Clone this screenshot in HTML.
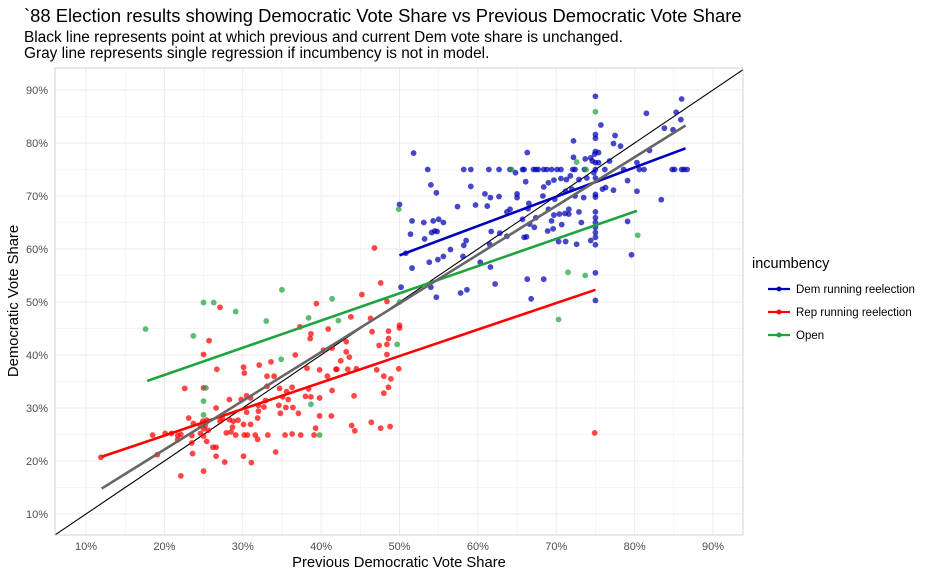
<!DOCTYPE html>
<html><head><meta charset="utf-8">
<style>
body{margin:0;background:#fff;}
svg text{font-family:"Liberation Sans",Arial,sans-serif;}
</style></head>
<body>
<svg id="chart" width="931" height="576" xmlns="http://www.w3.org/2000/svg">
<text x="24" y="22" font-size="18.4" fill="#000">`88 Election results showing Democratic Vote Share vs Previous Democratic Vote Share</text>
<text x="24" y="42" font-size="15.4" fill="#000">Black line represents point at which previous and current Dem vote share is unchanged.</text>
<text x="24" y="58" font-size="15.4" fill="#000">Gray line represents single regression if incumbency is not in model.</text>
<g id="grid"></g>
<g id="marks"></g>
<rect x="55" y="68" width="688" height="467" fill="none" stroke="#c8c8c8" stroke-width="0.8"/>
<g id="axes"></g>
<text x="399" y="567" font-size="14.8" text-anchor="middle">Previous Democratic Vote Share</text>
<text transform="translate(18,301) rotate(-90)" font-size="14.8" text-anchor="middle">Democratic Vote Share</text>
<g>
<text x="752" y="268" font-size="14.5">incumbency</text>
<g><line x1="768" y1="289" x2="790" y2="289" stroke="#0000bb" stroke-width="2.2"/><circle cx="779" cy="289" r="2.5" fill="#0000bb"/><text x="796" y="293" font-size="11.5">Dem running reelection</text></g>
<g><line x1="768" y1="312" x2="790" y2="312" stroke="#ff0000" stroke-width="2.2"/><circle cx="779" cy="312" r="2.5" fill="#ff0000"/><text x="796" y="316" font-size="11.5">Rep running reelection</text></g>
<g><line x1="768" y1="335" x2="790" y2="335" stroke="#1fa33f" stroke-width="2.2"/><circle cx="779" cy="335" r="2.5" fill="#1fa33f"/><text x="796" y="339" font-size="11.5">Open</text></g>
</g>
</svg>
<script>
const xTicks=[10,20,30,40,50,60,70,80,90];
const yTicks=[10,20,30,40,50,60,70,80,90];
const demX=[75,86,81.5,85.3,75.7,83.8,84.9,85.9,75,75,77.5,77.3,78.2,72.2,75,75.4,74.9,81.9,51.8,66.3,72.2,73.7,74.4,74.6,75,75.4,76.8,80.3,
53.6,58.2,59.1,61.4,62.7,64.1,65.7,65.9,67.1,67.4,67.7,68.4,68.8,69.4,70.1,70.6,72.1,72.4,73.6,75,76.2,78.6,80.6,81.2,84.8,85.1,86,86.3,86.7,
64.8,54,54.7,59.1,66.1,68.4,69,69.7,70.6,71.3,71.8,72.9,73.9,75,74.8,79.1,80.3,83.4,77.3,76.3,75.9,75,75,73.5,72.4,72,71.2,61.6,62.7,65,65,60.9,69.8,68.3,50,57.4,59.7,61.2,64.1,
63.7,66.5,66.4,65.7,67.4,69,69.7,70.4,71.1,71.6,71.6,72.9,75,75,75,75,75,75,75,73.2,74.4,72.6,71.2,70.3,79.1,68.9,69.6,70.7,69.4,67.2,66.6,66.2,65.9,63.7,62.8,61.7,
51.6,53.1,54.3,55,55.6,54.1,54.5,54.8,51.4,53.2,58.5,58.2,56.5,61.5,58.1,55.6,54.9,53.8,51.6,60.3,61.6,79.6,62.2,66.3,68.4,75,50.2,54,54.7,57.8,58.6,66.8,75,50.8];
const demY=[88.8,88.3,85.6,85.8,83.4,82.8,82.5,84.4,81.6,80.9,81.4,79.9,79.4,80.4,78.4,78.2,77.9,78.6,78.1,78.2,77.3,77,77.2,76.6,76.3,76.3,76.6,76.3,
75,75,75,75,75,75,75,75,75,75,75,75,75,75,75,75,75,75,75,75,75,75,75,75,75,75,75,75,75,
74.4,72.1,70.6,71.8,72.7,71.7,72.5,73,73.3,73.1,73.8,73.1,73.4,73.4,74.4,72.9,70.9,69.3,71.1,71.6,71.3,70.3,69.8,69.7,70,71.3,70.9,69.7,69.9,69.7,70.4,70.4,69.4,70,68.4,68,68.3,68.1,67.5,
67,68.6,67.6,65.6,65.9,67.5,66.4,66.6,66.7,67.5,66.6,67,67,65.9,65,64.1,63.1,62.2,60.8,65,61.6,60.9,61.4,61.4,65.2,63.4,63.8,64.6,65.3,64.1,64.7,62.3,62.2,62.4,63,63.3,
65.3,65,65.3,65.6,65,63.1,63.4,63.3,62.8,61.9,61.6,60.7,59.9,60.9,58.6,58.6,58,57.5,56.4,57.5,56.6,58.9,53.4,54.3,54.3,55.5,52.8,52.8,50.9,51.7,52.3,50.6,50.3,59.2];
const repX=[46.8,47.6,45.2,39.4,43.8,46.3,48.4,27.1,25.7,25,37.3,38.7,38.6,40.9,46.5,48.6,48.6,48.4,47.4,50,50,48.4,40.3,41.4,43.2,43.2,43.6,42.5,41.9,42,43.4,44.5,47.1,48,48.9,49.9,48.6,48,44.2,41.4,40.8,39.8,38.2,36.7,33.6,32.1,30.1,30.2,26.7,33.1,34,33.1,34.7,36.3,35.6,35.8,35.1,36.4,37.1,35.5,34.6,34.8,38,38.7,38.4,39.8,39.8,41.3,39.3,39.1,37.4,36.3,35.4,33.2,31.6,31.9,30.6,30.2,29.1,30.1,31.1,34.2,27.7,26.6,26.2,26.6,25.4,23.5,23.6,22.1,25,19.1,11.9,18.5,20.1,20.9,21.7,22.1,21.7,23.5,23.1,23.7,24.6,25,24.6,25.6,25,25.4,24.9,25.2,26.6,27.1,27.4,28.3,28.8,29.4,28.7,27.9,28.5,28.3,29.8,30.5,31,30.5,32,32,32.7,32.9,31.9,31,30.1,22.6,25,43.9,44.3,46.4,47.6,48.8,74.9];
const repY=[60.2,53.6,51.4,49.7,47.2,46.9,50.1,49,42.7,40.1,45.3,44,43.1,44.9,44.4,44.5,43.1,42,41.8,45.6,45.1,40.1,40.9,41.3,42.5,40.6,39.6,38.9,37.3,37.3,37.3,37.4,37.2,36,35.5,37.4,33.9,32.8,32.3,33.3,36,37.2,37.5,40,38.7,38.1,37.7,36.6,37.3,36,36,34.1,33.7,33.9,33.1,31.6,32.1,30.1,29,30.1,30.5,29,32.2,32.1,33.6,31.9,28.5,28.5,26.2,24.9,24.9,25.1,24.9,24.9,24.9,24.1,24.9,24.9,24.9,20.9,19.7,21.7,19.8,20.9,22.6,22.6,23.7,23.4,21.4,17.2,18.1,21.2,20.7,24.9,25.2,25.2,24.8,25,24,24.8,28.1,27.1,26.7,26.1,25.2,25.8,24.7,27.7,27.5,26.7,30,27.5,28,27.8,27.5,27.7,26.4,25.3,25.5,31.6,31.6,32.3,31.9,29.2,30.5,29.4,30.2,31.4,28.1,26.9,26.9,33.7,33.8,26.7,25.7,27.3,26.2,26.5,25.3];
const openX=[17.6,25,26.3,29.1,23.7,35,33,41.4,38.4,42.2,34.9,25.3,25,25,38.7,39.8,49.7,50,49.9,64.3,72.6,73.8,75,80.4,71.5,73.7,70.3];
const openY=[44.9,49.9,49.9,48.2,43.6,52.3,46.4,50.6,47,46.5,39.2,33.8,31.3,28.7,30.7,24.9,42,50,67.5,75,76.4,75,85.9,62.6,55.6,55,46.7];
// regression fit endpoints [x0,y0,x1,y1]
const demFit=[50,58.8,86.5,79];
const repFit=[12,20.8,75,52.3];
const openFit=[17.8,35.1,80.3,67.2];
const allFit=[12,14.8,86.5,83.3];

const NS="http://www.w3.org/2000/svg";
const X=v=>86+(v-10)*7.8375;
const Y=v=>514-(v-10)*5.3;
const PL=55,PR=743,PT=68,PB=535;
function mk(tag,attrs,parent){const e=document.createElementNS(NS,tag);for(const k in attrs)e.setAttribute(k,attrs[k]);parent.appendChild(e);return e;}
const grid=document.getElementById('grid'),marks=document.getElementById('marks'),axes=document.getElementById('axes');
for(let v=5;v<=95;v+=5){
  const major=v%10===0;
  const x=X(v);
  if(x>PL&&x<PR){const l=mk('line',{x1:x,x2:x,y1:PT,y2:PB,stroke:'#ebebeb','stroke-width':major?1:0.5},grid);
  
  }
  const y=Y(v);
  if(y>PT&&y<PB){const l=mk('line',{x1:PL,x2:PR,y1:y,y2:y,stroke:'#ebebeb','stroke-width':major?1:0.5},grid);
  
  }
}
xTicks.forEach(v=>{const t=mk('text',{x:X(v),y:550,'font-size':11,'text-anchor':'middle',fill:'#4d4d4d'},axes);t.textContent=v+'%';

});
yTicks.forEach(v=>{const t=mk('text',{x:48,y:Y(v)+4,'font-size':11,'text-anchor':'end',fill:'#4d4d4d'},axes);t.textContent=v+'%';

});
const v0=10+(PL-86)/7.8375, v1=10+(PR-86)/7.8375;
const idl=mk('line',{x1:X(v0),y1:Y(v0),x2:X(v1),y2:Y(v1),stroke:'#000','stroke-width':1.1},marks);


function pts(xs,ys,col,name){xs.forEach((x,i)=>{const c=mk('circle',{cx:X(x),cy:Y(ys[i]),r:2.9,fill:col,'fill-opacity':0.72},marks);

});}
pts(demX,demY,'#0000b4','dem-point');
pts(repX,repY,'#ff0000','rep-point');
pts(openX,openY,'#1fa33f','open-point');
function fit(f,col,name){const l=mk('line',{x1:X(f[0]),y1:Y(f[1]),x2:X(f[2]),y2:Y(f[3]),stroke:col,'stroke-width':2.6},marks);

}
fit(demFit,'#0000bb','dem-regression-line');
fit(repFit,'#ff0000','rep-regression-line');
fit(openFit,'#1fa33f','open-regression-line');
fit(allFit,'#666666','overall-regression-line');
</script>
</body></html>
